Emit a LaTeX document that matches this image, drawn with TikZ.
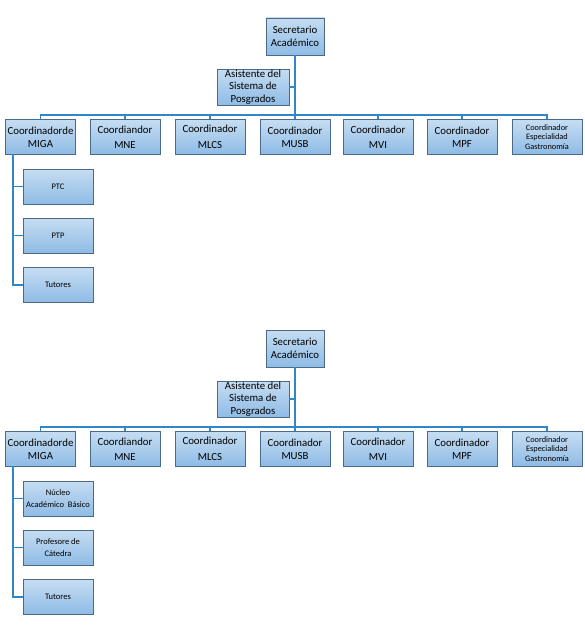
\documentclass[tikz,border=0pt]{standalone}
\usepackage{fontspec}
\setmainfont{Carlito}
\definecolor{boxtop}{HTML}{C6DDF2}
\definecolor{boxbot}{HTML}{8EBBE5}
\definecolor{boxline}{HTML}{4A6A8A}
\definecolor{conn}{HTML}{2F86C8}
\tikzset{
  box/.style={draw=boxline, line width=0.8pt, top color=boxtop, bottom color=boxbot,
    minimum width=70pt, minimum height=35pt, inner sep=0pt, align=center,
    font=\fontsize{10.8}{13}\selectfont},
  smallbox/.style={box, font=\fontsize{8.5}{12}\selectfont},
  wire/.style={draw=conn, line width=1.3pt}
}
\newcommand\orgchart[6]{%
\begin{scope}[shift={(0,#2)}]
  \node[box, minimum width=58pt, minimum height=37pt] (#1sec) at (295,36.5) {Secretario\\Académico};
  \node[box, minimum width=72pt, minimum height=36pt, font=\fontsize{10.8}{12.3}\selectfont] (#1asi) at (253,87) {Asistente del\\Sistema de\\Posgrados};
  \node[box] (#1c1) at (40.5,137) {Coordinadorde\\MIGA};
  \node[box] (#1c2) at (125,137) {Coordiandor\\[2.5pt]MNE};
  \node[box] (#1c3) at (210,137) {Coordinador\\[2.5pt]MLCS};
  \node[box] (#1c4) at (295,137) {Coordinador\\MUSB};
  \node[box] (#1c5) at (378,137) {Coordinador\\[2.5pt]MVI};
  \node[box] (#1c6) at (462,137) {Coordinador\\MPF};
  \node[box, font=\fontsize{8.3}{9.8}\selectfont] (#1c7) at (547,137) {Coordinador\\Especialidad\\Gastronomía};
  \node[smallbox] (#1s1) at (58,186.5) {#3};
  \node[smallbox] (#1s2) at (58,235.5) {#4};
  \node[smallbox] (#1s3) at (58,285) {#5};
  \coordinate (#1bus) at (295,115);
  \coordinate (#1stem) at (13,154);
  \draw[wire] (#1sec.south) -- (#1bus);
  \draw[wire] (#1asi.east) -- (#1asi.east -| #1sec.south);
  \draw[wire] (#1c1.north) |- (#1bus) -| (#1c7.north);
  \foreach \k in {2,...,6} {\draw[wire] (#1c\k.north) -- (#1c\k.north |- #1bus);}
  \draw[wire] (#1stem) |- (#1s3.west);
  \draw[wire] (#1s1.west) -- (#1s1.west -| #1stem);
  \draw[wire] (#1s2.west) -- (#1s2.west -| #1stem);
\end{scope}}
\begin{document}
\begin{tikzpicture}[x=1pt,y=-1pt]
  \useasboundingbox (0,0) rectangle (584,634);
  \orgchart{a}{0}{PTC}{PTP}{Tutores}{}
  \orgchart{b}{312}{Núcleo\\Académico\ \ Básico}{Profesore de\\Cátedra}{Tutores}{}
\end{tikzpicture}
\end{document}
